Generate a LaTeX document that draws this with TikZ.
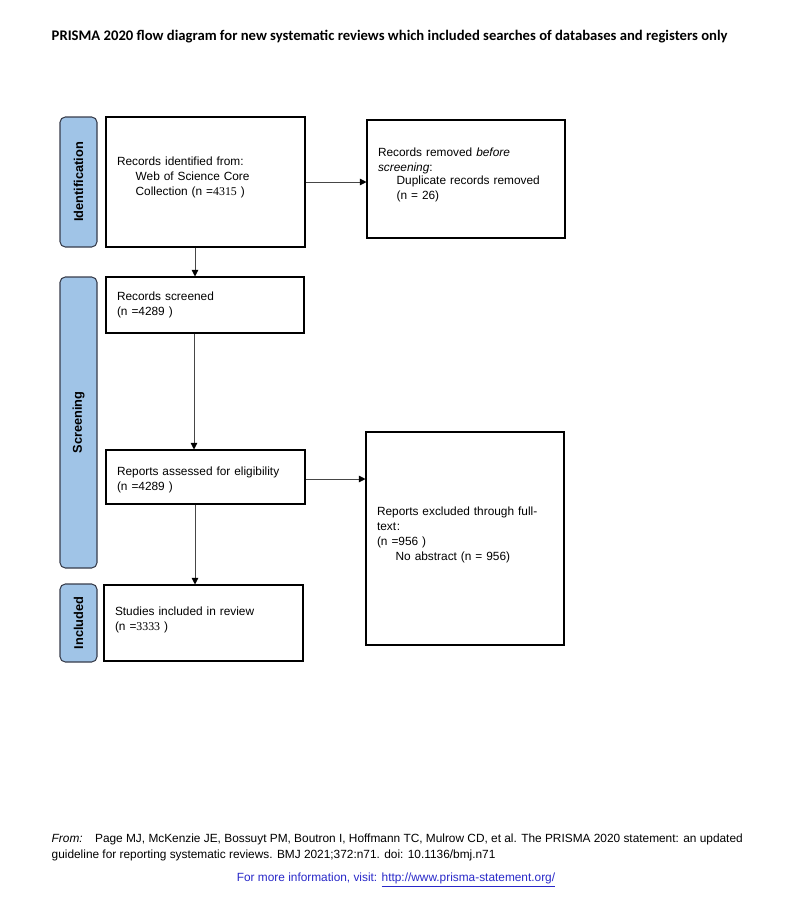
\documentclass[tikz,border=0pt]{standalone}
\usepackage{fontspec}
\setmainfont{Liberation Sans}
\newfontfamily\titlefont{Carlito}
\newfontfamily\numfont{Liberation Serif}
\usepackage{xcolor}
\usetikzlibrary{arrows.meta}
\definecolor{phase}{RGB}{160,196,231}
\definecolor{phaseline}{RGB}{55,60,75}
\definecolor{linkblue}{RGB}{40,40,200}
\definecolor{arrowgrey}{RGB}{70,70,70}

\tikzset{
  box/.style={draw=black,line width=0.8pt,fill=white,align=left,
    inner xsep=8.25pt,inner ysep=0pt,font=\fontsize{8.9}{11.3}\selectfont},
  phasebox/.style={draw=phaseline,fill=phase,line width=0.8pt,rounded corners=4pt,
    minimum width=27.75pt,inner sep=0pt},
  phasetext/.style={rotate=90,font=\bfseries\fontsize{9.6}{11}\selectfont},
  flow/.style={arrowgrey,line width=0.6pt,-{Triangle[length=5pt,width=5pt,black]}}
}

\begin{document}
\begin{tikzpicture}[x=0.75pt,y=-0.75pt]
  \useasboundingbox (0,0) rectangle (793,918);

  % title
  \node[anchor=west,font=\titlefont\bfseries\fontsize{11}{13}\selectfont] (title) at (47,37)
    {PRISMA 2020 flow diagram for new systematic reviews which included searches of databases and registers only};

  % phase labels
  \node[phasebox,minimum height=97.5pt] (idphase) at (78.5,182) {};
  \node[phasetext] (idtext) at (idphase) {Identification};
  \node[phasebox,minimum height=218.25pt] (scphase) at (78.5,422.5) {};
  \node[phasetext] (sctext) at (scphase) {Screening};
  \node[phasebox,minimum height=58.5pt] (inphase) at (78.5,623) {};
  \node[phasetext] (intext) at (inphase) {Included};

  % boxes
  \node[box,text width=132.75pt,minimum height=97.5pt] (ident) at (205.5,182)
    {Records identified from:\\
     \hspace*{14pt}Web of Science Core\\
     \hspace*{14pt}Collection (n =\numfont 4315 \fontspec{Liberation Sans})\\[-3pt]\mbox{}};
  \node[box,text width=132pt,minimum height=88.5pt] (removed) at (466,179)
    {Records removed \textit{before}\\
     \textit{screening}:\\[-1.5pt]
     \hspace*{14pt}Duplicate records removed\\
     \hspace*{14pt}(n = 26)\\[-3pt]\mbox{}};
  \node[box,text width=132pt,minimum height=42pt] (screened) at (205,305)
    {Records screened\\
     (n =4289 )};
  \node[box,text width=132.75pt,minimum height=40.5pt] (assessed) at (205.5,477)
    {\rule{0pt}{11pt}Reports assessed for eligibility\\
     (n =4289 )};
  \node[box,text width=132pt,minimum height=159.75pt] (excluded) at (465,538.5)
    {Reports excluded through full-\\
     text\kern0.5pt:\\
     (n =956 )\\
     \hspace*{14pt}No abstract (n = 956)\\[-4.5pt]\mbox{}};
  \node[box,text width=132.75pt,minimum height=57pt] (studies) at (203.5,623)
    {Studies included in review\\
     (n =\numfont 3333 \fontspec{Liberation Sans})\\[-5.3pt]\mbox{}};

  % arrows
  \draw[flow] (ident.east |- ident) -- (removed.west |- ident);
  \draw[flow] (ident.south -| 195,0) -- (screened.north -| 195,0);
  \draw[flow] (screened.south -| 194,0) -- (assessed.north -| 194,0);
  \draw[flow] (assessed.east |- 0,479) -- (excluded.west |- 0,479);
  \draw[flow] (assessed.south -| 195,0) -- (studies.north -| 195,0);

  % footer
  \node[anchor=north west,align=left,font=\fontsize{8.9}{12}\selectfont] (source) at (47,829)
    {\textit{From:}\hspace{6pt} Page MJ, McKenzie JE, Bossuyt PM, Boutron I, Hoffmann TC, Mulrow CD, et al. The PRISMA 2020 statement: an updated\\
     guideline for reporting systematic reviews. BMJ 2021;372:n71. doi: 10.1136/bmj.n71};
  \node[font=\fontsize{8.9}{10}\selectfont,text=linkblue] (info) at (396,880)
    {For more information, visit: \underline{http://www.prisma-statement.org/}};
\end{tikzpicture}
\end{document}
